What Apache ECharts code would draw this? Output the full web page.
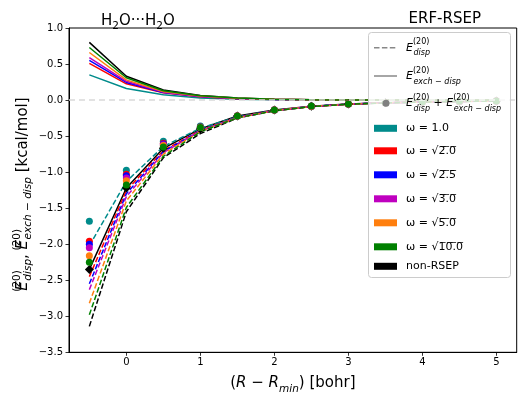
<!DOCTYPE html>
<html>
<head>
<meta charset="utf-8">
<script src="https://cdn.jsdelivr.net/npm/echarts@6/dist/echarts.min.js"></script>
<style>
  html, body { margin: 0; padding: 0; background: #fff; }
  #chart { width: 522px; height: 399px; }
</style>
</head>
<body>
<div id="chart"></div>
<script>
// distances (R - Rmin) in bohr
const xs = [-0.5, 0, 0.5, 1, 1.5, 2, 2.5, 3, 3.5, 4, 4.5, 5];

const omegaNames = ['ω = 1.0', 'ω = √2̅.̅0̅', 'ω = √2̅.̅5̅', 'ω = √3̅.̅0̅', 'ω = √5̅.̅0̅', 'ω = √1̅0̅.̅0̅'];
const omegaColors = ['#008b8b', '#ff0000', '#0000ff', '#bf00bf', '#ff7f0e', '#008000'];
const xTicks = [0, 1, 2, 3, 4, 5];

// E_exch-disp (solid)
const exchW1 = [0.35, 0.16, 0.075, 0.03, 0.012, 0.005, 0.002, 0.001, 0.0, 0.0, 0.0, 0.0];
const exchW2 = [0.51, 0.225, 0.10, 0.045, 0.019, 0.008, 0.003, 0.001, 0.0, 0.0, 0.0, 0.0];
const exchW25 = [0.55, 0.245, 0.105, 0.048, 0.021, 0.009, 0.004, 0.002, 0.001, 0.0, 0.0, 0.0];
const exchW3 = [0.59, 0.26, 0.11, 0.05, 0.022, 0.01, 0.004, 0.002, 0.001, 0.0, 0.0, 0.0];
const exchW5 = [0.66, 0.28, 0.12, 0.055, 0.025, 0.011, 0.005, 0.002, 0.001, 0.0, 0.0, 0.0];
const exchW10 = [0.73, 0.31, 0.13, 0.06, 0.027, 0.012, 0.005, 0.002, 0.001, 0.0, 0.0, 0.0];
const exchNon = [0.80, 0.33, 0.14, 0.065, 0.03, 0.013, 0.006, 0.003, 0.001, 0.001, 0.0, 0.0];

// E_disp (dashed)
const dispW1 = [-2.02, -1.13, -0.645, -0.39, -0.232, -0.142, -0.087, -0.056, -0.038, -0.027, -0.019, -0.014];
const dispW2 = [-2.45, -1.255, -0.70, -0.42, -0.24, -0.145, -0.088, -0.057, -0.038, -0.027, -0.019, -0.014];
const dispW25 = [-2.55, -1.30, -0.715, -0.425, -0.242, -0.146, -0.089, -0.057, -0.039, -0.027, -0.019, -0.014];
const dispW3 = [-2.63, -1.34, -0.73, -0.43, -0.243, -0.147, -0.089, -0.057, -0.039, -0.027, -0.019, -0.014];
const dispW5 = [-2.82, -1.40, -0.75, -0.435, -0.245, -0.148, -0.09, -0.058, -0.039, -0.028, -0.019, -0.014];
const dispW10 = [-2.98, -1.49, -0.78, -0.44, -0.247, -0.149, -0.09, -0.058, -0.039, -0.028, -0.019, -0.014];
const dispNon = [-3.14, -1.55, -0.80, -0.465, -0.25, -0.15, -0.091, -0.058, -0.039, -0.028, -0.019, -0.014];

// E_disp + E_exch-disp (markers)
const sumW1 = [-1.68, -0.975, -0.57, -0.36, -0.22, -0.137, -0.085, -0.055, -0.038, -0.027, -0.019, -0.014];
const sumW2 = [-1.96, -1.03, -0.60, -0.375, -0.221, -0.137, -0.085, -0.056, -0.038, -0.027, -0.019, -0.014];
const sumW25 = [-2.00, -1.05, -0.61, -0.377, -0.221, -0.137, -0.085, -0.055, -0.038, -0.027, -0.019, -0.014];
const sumW3 = [-2.05, -1.08, -0.62, -0.38, -0.221, -0.137, -0.085, -0.055, -0.038, -0.027, -0.019, -0.014];
const sumW5 = [-2.16, -1.12, -0.63, -0.38, -0.22, -0.137, -0.085, -0.056, -0.038, -0.027, -0.018, -0.014];
const sumW10 = [-2.25, -1.18, -0.65, -0.38, -0.22, -0.137, -0.084, -0.055, -0.037, -0.026, -0.018, -0.013];
const sumNon = [-2.35, -1.22, -0.67, -0.40, -0.22, -0.137, -0.085, -0.055, -0.038, -0.027, -0.019, -0.014];

const exchAll = [exchW1, exchW2, exchW25, exchW3, exchW5, exchW10];
const dispAll = [dispW1, dispW2, dispW25, dispW3, dispW5, dispW10];
const sumAll = [sumW1, sumW2, sumW25, sumW3, sumW5, sumW10];

function pairs(ys) {
  return xs.map((x, i) => [x, ys[i]]);
}

const chart = echarts.init(document.getElementById('chart'));
const FONT = 'DejaVu Sans';
const DASH = [5.5, 2.4];

let series = [];
// non-RSEP first
series.push({
  type: 'line', name: 'disp non', data: pairs(dispNon), symbol: 'none',
  lineStyle: { color: '#000', width: 1.5, type: DASH }, z: 2, silent: true,
  markLine: {
    silent: true, symbol: 'none', label: { show: false },
    lineStyle: { color: '#d9d9d9', width: 1.5, type: [6, 4] },
    data: [{ yAxis: 0 }]
  }
});
series.push({
  type: 'line', name: 'exch non', data: pairs(exchNon), symbol: 'none',
  lineStyle: { color: '#000', width: 1.5 }, z: 2, silent: true
});
series.push({
  type: 'line', name: 'non-RSEP', data: pairs(sumNon), symbol: 'diamond', symbolSize: 9,
  itemStyle: { color: '#000', opacity: 1 }, lineStyle: { color: '#000', width: 1.5 }, z: 2, silent: true
});
for (let i = 0; i < omegaNames.length; i++) {
  const c = omegaColors[i];
  series.push({
    type: 'line', name: 'disp ' + i, data: pairs(dispAll[i]), symbol: 'none',
    lineStyle: { color: c, width: 1.5, type: DASH }, z: 2, silent: true
  });
  series.push({
    type: 'line', name: 'exch ' + i, data: pairs(exchAll[i]), symbol: 'none',
    lineStyle: { color: c, width: 1.5 }, z: 2, silent: true
  });
}
for (let i = 0; i < omegaNames.length; i++) {
  series.push({
    type: 'scatter', name: omegaNames[i], data: pairs(sumAll[i]), symbolSize: 7,
    itemStyle: { color: omegaColors[i], opacity: 1 }, z: 3, silent: true
  });
}

const mathRich = (fs, sfs, lh) => ({
  e: { fontFamily: FONT, fontSize: fs, fontStyle: 'italic', fontWeight: 'normal', color: '#000', lineHeight: lh },
  n: { fontFamily: FONT, fontSize: fs, fontWeight: 'normal', color: '#000', lineHeight: lh },
  sp: { fontFamily: FONT, fontSize: sfs, fontWeight: 'normal', color: '#000', lineHeight: sfs + 1, verticalAlign: 'top', width: 0.5 },
  sb: { fontFamily: FONT, fontSize: sfs, fontStyle: 'italic', fontWeight: 'normal', color: '#000', lineHeight: sfs + 1, verticalAlign: 'bottom' },
  s: { fontFamily: FONT, fontSize: sfs, fontStyle: 'italic', fontWeight: 'normal', color: '#000', lineHeight: sfs + 1, verticalAlign: 'bottom' }
});

const legendRows = [
  { name: omegaNames[0], h: 17 },
  { name: omegaNames[1], h: 20 },
  { name: omegaNames[2], h: 20 },
  { name: omegaNames[3], h: 20 },
  { name: omegaNames[4], h: 20 },
  { name: omegaNames[5], h: 20 },
  { name: 'non-RSEP', h: 8 }
];
const legendColors = omegaColors.concat(['#000']);

const option = {
  animation: false,
  backgroundColor: '#fff',
  title: [
    {
      text: '{n|H}{s|2}{n|O···H}{s|2}{n|O}', left: 96, top: 5,
      textStyle: { fontWeight: 'normal', rich: {
        n: { fontFamily: FONT, fontSize: 15, fontWeight: 'normal', color: '#000', lineHeight: 22 },
        s: { fontFamily: FONT, fontSize: 10.5, fontWeight: 'normal', color: '#000', lineHeight: 12, verticalAlign: 'bottom' }
      } }
    },
    {
      text: 'ERF-RSEP', right: 36, top: 7,
      textStyle: { fontFamily: FONT, fontSize: 15, fontWeight: 'normal', color: '#000' }
    }
  ],
  grid: {
    left: 69, right: 5.3, top: 28, bottom: 46.7, containLabel: false, outerBoundsMode: 'none',
    show: true, borderColor: '#000', borderWidth: 1, backgroundColor: 'transparent'
  },
  xAxis: {
    type: 'value', min: -0.775, max: 5.275,
    name: '{n|(}{e|R}{n| − }{e|R}{s|min}{n|) [bohr]}', nameLocation: 'middle', nameGap: 20,
    nameTextStyle: { rich: mathRich(15, 10.5, 22) },
    axisLine: { show: true, onZero: false, lineStyle: { color: '#000', width: 1 } },
    axisTick: { show: true, inside: false, length: 3.5, lineStyle: { color: '#000', width: 0.8 }, customValues: xTicks },
    axisLabel: { customValues: xTicks, color: '#000', fontFamily: FONT, fontSize: 10, margin: 5 },
    splitLine: { show: false }
  },
  yAxis: {
    type: 'value', min: -3.5, max: 1.0, interval: 0.5,
    axisLine: { show: true, onZero: false, lineStyle: { color: '#000', width: 1 } },
    axisTick: { show: true, inside: false, length: 3.5, lineStyle: { color: '#000', width: 0.8 } },
    axisLabel: {
      color: '#000', fontFamily: FONT, fontSize: 10, margin: 6,
      formatter: v => v.toFixed(1).replace('-', '−')
    },
    splitLine: { show: false }
  },
  legend: {
    orient: 'vertical', left: 374, top: 119.8, padding: 0, itemGap: 4,
    itemWidth: 23, itemHeight: 7, icon: 'rect', selectedMode: false, z: 120,
    textStyle: { fontFamily: FONT, fontSize: 11, color: '#000', padding: [0, 0, 0, 4] },
    data: legendRows.map((r, i) => ({
      name: r.name, icon: 'rect', itemStyle: { color: legendColors[i], opacity: 1 },
      textStyle: { lineHeight: r.h }
    }))
  },
  graphic: [
    {
      type: 'text', silent: true, x: 23, y: 194, rotation: Math.PI / 2,
      style: {
        text: '{e|E}{sp|(20)}{sb|disp}{n|, }{e|E}{sp|(20)}{sb|exch − disp}{n| [kcal/mol]}',
        rich: mathRich(15, 10.5, 22), align: 'center', verticalAlign: 'middle'
      }
    },
    {
      type: 'rect', z: 100, silent: true,
      shape: { x: 368.5, y: 32.5, width: 142, height: 245, r: 3 },
      style: { fill: 'rgba(255,255,255,0.8)', stroke: '#cccccc', lineWidth: 1 }
    },
    {
      type: 'line', z: 110, silent: true,
      shape: { x1: 374, y1: 47.7, x2: 397, y2: 47.7 },
      style: { stroke: '#888', lineWidth: 1.5, lineDash: DASH }
    },
    {
      type: 'text', z: 110, silent: true, x: 406, y: 47.7,
      style: { text: '{e|E}{sp|(20)}{sb|disp}', rich: mathRich(11, 8, 19), verticalAlign: 'middle' }
    },
    {
      type: 'line', z: 110, silent: true,
      shape: { x1: 374, y1: 76, x2: 397, y2: 76 },
      style: { stroke: '#888', lineWidth: 1.5 }
    },
    {
      type: 'text', z: 110, silent: true, x: 406, y: 76,
      style: { text: '{e|E}{sp|(20)}{sb|exch − disp}', rich: mathRich(11, 8, 19), verticalAlign: 'middle' }
    },
    {
      type: 'circle', z: 110, silent: true,
      shape: { cx: 386, cy: 103.3, r: 3.5 },
      style: { fill: '#808080' }
    },
    {
      type: 'text', z: 110, silent: true, x: 406, y: 103.3,
      style: { text: '{e|E}{sp|(20)}{sb|disp}{n| + }{e|E}{sp|(20)}{sb|exch − disp}', rich: mathRich(11, 8, 19), verticalAlign: 'middle' }
    }
  ],
  series: series
};

chart.setOption(option);
</script>
</body>
</html>
